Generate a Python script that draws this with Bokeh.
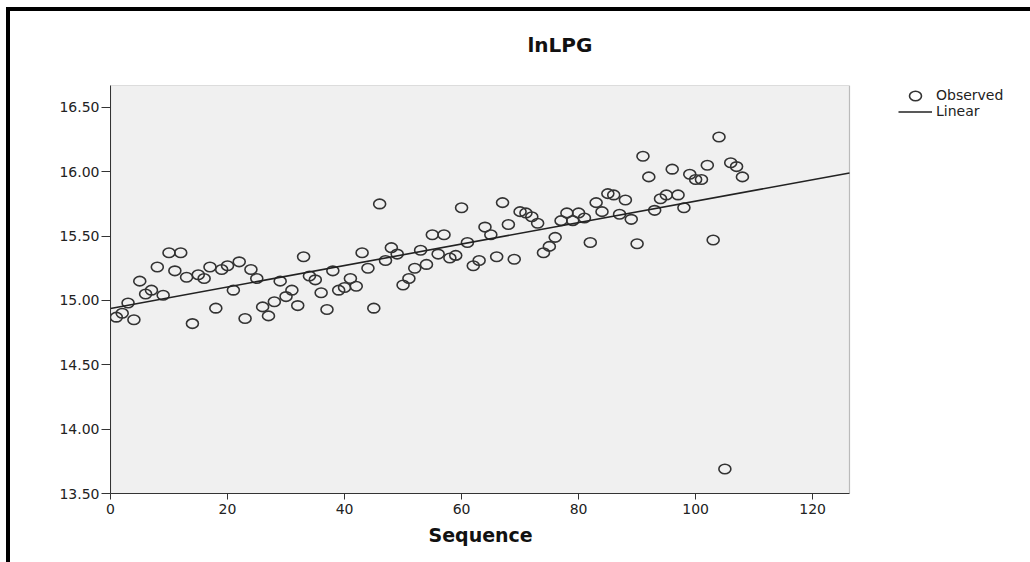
import numpy as np
from bokeh.plotting import figure
from bokeh.models import (Range1d, FixedTicker, NumeralTickFormatter, Legend,
                          LegendItem, ColumnDataSource, BoxAnnotation, Title)
from bokeh.embed import file_html
from bokeh.resources import INLINE

# ---- data ----
sequence = list(range(1, 109))
lnlpg = [
    14.87, 14.90, 14.98, 14.85, 15.15, 15.05, 15.08, 15.26, 15.04, 15.37,
    15.23, 15.37, 15.18, 14.82, 15.20, 15.17, 15.26, 14.94, 15.24, 15.27,
    15.08, 15.30, 14.86, 15.24, 15.17, 14.95, 14.88, 14.99, 15.15, 15.03,
    15.08, 14.96, 15.34, 15.19, 15.16, 15.06, 14.93, 15.23, 15.08, 15.10,
    15.17, 15.11, 15.37, 15.25, 14.94, 15.75, 15.31, 15.41, 15.36, 15.12,
    15.17, 15.25, 15.39, 15.28, 15.51, 15.36, 15.51, 15.33, 15.35, 15.72,
    15.45, 15.27, 15.31, 15.57, 15.51, 15.34, 15.76, 15.59, 15.32, 15.69,
    15.68, 15.65, 15.60, 15.37, 15.42, 15.49, 15.62, 15.68, 15.62, 15.68,
    15.64, 15.45, 15.76, 15.69, 15.83, 15.82, 15.67, 15.78, 15.63, 15.44,
    16.12, 15.96, 15.70, 15.79, 15.82, 16.02, 15.82, 15.72, 15.98, 15.94,
    15.94, 16.05, 15.47, 16.27, 13.69, 16.07, 16.04, 15.96,
]
x_ticks = [0, 20, 40, 60, 80, 100, 120]
y_ticks = [13.5, 14.0, 14.5, 15.0, 15.5, 16.0, 16.5]
x_limits = [0, 126.3]
y_limits = [13.5, 16.67]
title_text = "lnLPG"
x_label = "Sequence"
legend_labels = ["Observed", "Linear"]

# linear fit of the observed series
slope, intercept = np.polyfit(sequence, lnlpg, 1)
fit_x = list(x_limits)
fit_y = [intercept + slope * v for v in fit_x]

FONT = "DejaVu Sans"
W, H = 1030, 562
LEFT, TOP, BOTTOM = 110, 85, 69
PLOT_W = 739                      # width of the grey plotting box in pixels
FRAME_W = W - LEFT                # drawing area reaches the right edge (legend lives there)
x_view_end = x_limits[1] * FRAME_W / PLOT_W

p = figure(width=W, height=H, output_backend="svg", toolbar_location=None,
           x_range=Range1d(x_limits[0], x_view_end), y_range=Range1d(*y_limits),
           min_border_left=LEFT, min_border_right=0,
           min_border_top=TOP, min_border_bottom=BOTTOM)

# thick black frame line at the left and top of the picture (drawn over the canvas)
p.stylesheets = [
    ":host::after { content: ''; position: absolute; left: 6px; top: 7px; "
    "right: 0px; bottom: 0px; border-left: 4px solid black; "
    "border-top: 4px solid black; pointer-events: none; z-index: 100; }"
]

p.background_fill_color = "white"
p.border_fill_color = "white"
p.outline_line_color = None
p.xgrid.visible = False
p.ygrid.visible = False

# grey plotting box with its outline
p.add_layout(BoxAnnotation(left=x_limits[0], right=x_limits[1],
                           bottom=y_limits[0], top=y_limits[1],
                           fill_color="#F0F0F0", fill_alpha=1,
                           line_color="#333333", line_width=1.2,
                           level="underlay"))

# title
p.title.text = title_text
p.title.align = "left"
p.title.offset = 417
p.title.standoff = 58
p.title.text_font = FONT
p.title.text_font_size = "20px"
p.title.text_font_style = "bold"
p.title.text_color = "#111111"

# axes
xa = p.xaxis[0]
xa.ticker = FixedTicker(ticks=x_ticks)
xa.bounds = tuple(x_limits)
xa.major_tick_out = 6
xa.major_tick_in = 0
xa.minor_tick_out = 0
xa.minor_tick_in = 0
xa.major_label_standoff = 4
xa.major_label_text_font = FONT
xa.major_label_text_font_size = "14px"
xa.major_label_text_color = "#222222"
xa.axis_line_color = "#333333"
xa.major_tick_line_color = "#333333"

# x axis title, centred under the grey box
p.add_layout(Title(text=x_label, align="left", offset=318, vertical_align="top",
                   standoff=14, text_font=FONT, text_font_size="19px",
                   text_font_style="bold", text_color="#111111"), "below")

ya = p.yaxis[0]
ya.ticker = FixedTicker(ticks=y_ticks)
ya.formatter = NumeralTickFormatter(format="0.00")
ya.major_tick_out = 9
ya.major_tick_in = 0
ya.minor_tick_out = 0
ya.minor_tick_in = 0
ya.major_label_standoff = 2
ya.major_label_text_font = FONT
ya.major_label_text_font_size = "14px"
ya.major_label_text_color = "#222222"
ya.axis_line_color = "#333333"
ya.major_tick_line_color = "#333333"

src = ColumnDataSource(dict(x=sequence, y=lnlpg))
obs = p.ellipse(x="x", y="y", width=12, height=9.5, width_units="screen",
                height_units="screen", fill_color=None, line_color="#333333",
                line_width=1.6, source=src)
lin = p.line(fit_x, fit_y, line_color="#222222", line_width=1.6)

legend = Legend(items=[LegendItem(label=legend_labels[0], renderers=[obs]),
                       LegendItem(label=legend_labels[1], renderers=[lin])],
                location=(788, 374))
legend.border_line_color = None
legend.background_fill_color = None
legend.background_fill_alpha = 0
legend.label_text_font = FONT
legend.label_text_font_size = "14px"
legend.label_text_color = "#222222"
legend.glyph_width = 34
legend.glyph_height = 15
legend.label_height = 15
legend.label_standoff = 4
legend.spacing = 0
legend.padding = 0
legend.margin = 0
p.add_layout(legend, "center")

open("out.html", "w").write(file_html(p, INLINE))
